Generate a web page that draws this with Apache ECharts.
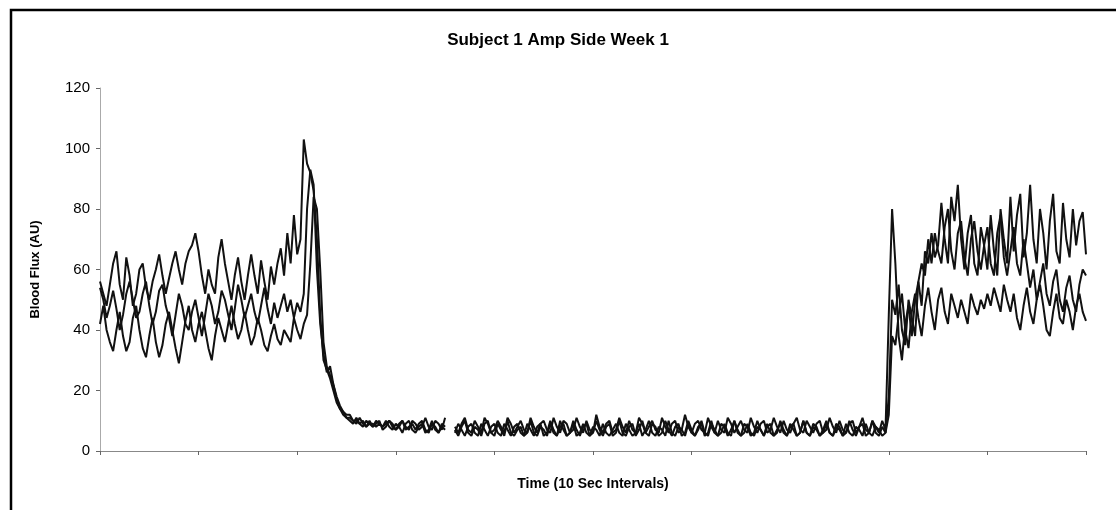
<!DOCTYPE html>
<html>
<head>
<meta charset="utf-8">
<script src="https://cdn.jsdelivr.net/npm/echarts@6/dist/echarts.min.js"></script>
<style>
  html, body { margin: 0; padding: 0; background: #fff; }
  #chart { width: 1116px; height: 510px; }
</style>
</head>
<body>
<div id="chart"></div>
<script>
// three traces of blood flux, one reading every 10 s (301 readings)
const traceA = [
  56,52,48,55,62,66,55,50,64,58, 48,52,60,62,54,50,56,60,65,58,
  52,57,62,66,60,55,62,66,68,72, 66,58,52,60,55,52,64,70,62,56,
  50,58,64,56,50,58,65,58,52,63, 56,50,61,55,62,67,58,72,62,78,
  65,70,103,95,92,86,
  70,45,30,27,24,20,16,14,12,11,
  10,9,11,9,8,10,9,8,10,9, 8,9,10,8,7,9,10,8,7,10, 9,7,8,11,8,7,10,9,7,11,
  null,null,
  8,6,9,11,7,6,10,8,6,11, 9,6,7,10,8,6,11,9,6,8, 10,7,6,11,8,6,9,10,7,6,
  11,8,6,10,9,6,7,11,8,6, 10,7,6,12,8,6,9,10,6,7, 11,8,6,10,7,6,11,9,6,8,
  10,7,6,11,8,6,9,10,6,7, 12,8,6,9,10,7,6,11,8,6, 10,7,6,11,9,6,8,10,7,6,
  11,8,6,9,10,6,7,11,8,6, 10,7,6,9,11,7,6,10,8,6, 9,10,6,7,11,8,6,10,7,6,
  9,10,6,8,11,7,6,10,8,6, 10,7,
  45,80,
  62,38,30,42,48,38,50,56,48,
  66,62,72,64,68,82,70,62,84,76, 88,70,60,72,78,62,58,74,68,60,
  78,66,58,80,70,62,84,66,78,85, 64,72,88,70,62,80,72,60,76,85,
  66,62,82,70,64,80,68,76,79,65
];
const traceB = [
  54,50,44,48,53,47,40,45,52,56, 50,44,46,52,56,48,42,46,53,55,
  48,44,38,45,52,48,42,40,46,50, 44,38,45,52,48,42,46,53,50,45,
  40,47,55,50,44,48,52,46,42,48, 54,47,42,49,44,48,52,46,50,44,
  49,46,52,80,93,88,
  60,42,32,26,28,22,17,14,13,11,
  11,10,9,11,9,8,10,8,9,10, 7,8,10,9,7,8,10,7,8,9, 7,9,10,7,6,9,8,6,9,8,
  null,null,
  6,9,7,5,8,9,6,5,9,7, 5,8,9,6,5,9,7,5,8,9, 6,5,9,7,5,8,9,5,6,10,
  7,5,8,9,5,6,10,7,5,8, 9,5,6,10,7,5,8,9,5,6, 10,6,5,8,9,5,7,10,6,5,
  9,8,5,6,10,7,5,8,9,5, 6,10,7,5,8,9,5,6,10,6, 5,9,8,5,7,10,6,5,9,8,
  5,6,10,7,5,8,9,5,6,10, 7,5,8,9,5,6,10,6,5,9, 8,5,7,10,6,5,9,8,5,6,
  10,7,5,8,9,5,6,10,6,5, 8,6,
  18,50,
  45,55,40,35,50,44,38,56,62,
  58,70,62,72,66,62,74,80,66,60, 72,76,64,58,70,76,66,60,68,74,
  62,58,72,78,64,58,66,74,62,58, 70,62,54,60,50,56,62,52,48,56,
  60,50,46,54,58,50,46,55,60,58
];
const traceC = [
  42,48,40,36,33,40,46,38,33,36, 44,48,40,34,31,38,44,36,31,35,
  42,46,40,34,29,36,43,48,40,36, 42,46,40,34,30,38,44,40,36,42,
  48,42,37,40,46,40,35,38,44,40, 35,33,38,42,37,35,40,38,36,44,
  40,37,42,45,62,84,
  80,60,36,28,25,22,18,15,13,12,
  12,10,10,9,10,8,9,9,8,9, 8,10,8,7,9,8,6,9,10,7, 6,8,9,6,7,10,7,6,8,7,
  null,null,
  7,5,8,10,6,5,8,7,5,9, 10,6,5,9,7,5,10,6,5,7, 8,5,6,10,6,5,8,7,5,9,
  6,5,10,7,5,6,9,5,6,9, 6,5,8,7,5,9,6,5,7,9, 6,5,9,7,5,6,9,5,7,10,
  6,5,8,7,5,10,6,5,8,7, 5,9,6,5,7,10,6,5,9,7, 5,6,9,6,5,10,7,5,6,9,
  6,5,8,7,5,9,6,5,7,9, 6,5,9,7,5,6,10,6,5,8, 7,5,6,9,6,5,8,7,5,9,
  6,5,8,7,5,9,6,5,8,7, 5,6,
  12,38,
  35,45,52,40,34,46,52,44,38,
  48,54,46,40,50,54,46,42,52,48, 44,50,46,42,52,48,45,50,47,52,
  48,54,50,46,55,50,46,52,44,40, 48,54,46,42,50,55,48,40,38,46,
  52,44,42,50,46,40,48,52,46,43
];
const timeSteps = traceA.map((v, i) => i + 1);
const yTicks = { min: 0, max: 120, step: 20 };
const tickEvery = 30;

const chartDom = document.getElementById('chart');
const myChart = echarts.init(chartDom);

const lineSeries = (name, data) => ({
  name: name,
  type: 'line',
  data: data,
  showSymbol: false,
  connectNulls: false,
  animation: false,
  lineStyle: { color: '#111', width: 2 }
});

const option = {
  backgroundColor: '#fff',
  textStyle: { fontFamily: 'Liberation Sans, Arial, sans-serif' },
  title: {
    text: 'Subject 1 Amp Side Week 1',
    left: 'center',
    top: 27,
    textStyle: { color: '#000', fontSize: 17, fontWeight: 'bold' }
  },
  grid: { left: 100, right: 30, top: 88, bottom: 59 },
  xAxis: {
    type: 'category',
    data: timeSteps,
    boundaryGap: false,
    name: 'Time (10 Sec Intervals)',
    nameLocation: 'middle',
    nameGap: 26,
    nameTextStyle: { color: '#000', fontSize: 14, fontWeight: 'bold' },
    axisLine: { lineStyle: { color: '#888', width: 1.2 } },
    axisTick: {
      length: 4,
      interval: (index) => index % tickEvery === 0,
      lineStyle: { color: '#666' }
    },
    axisLabel: { show: false },
    splitLine: { show: false }
  },
  yAxis: {
    type: 'value',
    min: yTicks.min,
    max: yTicks.max,
    interval: yTicks.step,
    name: 'Blood Flux (AU)',
    nameLocation: 'middle',
    nameGap: 58,
    nameTextStyle: { color: '#000', fontSize: 13, fontWeight: 'bold' },
    axisLine: { show: true, lineStyle: { color: '#aaa', width: 1 } },
    axisTick: { show: true, length: 4, lineStyle: { color: '#666' } },
    axisLabel: { color: '#000', fontSize: 15, margin: 10 },
    splitLine: { show: false }
  },
  graphic: [
    {
      type: 'polyline',
      shape: { points: [[11, 520], [11, 10], [1120, 10]] },
      style: { stroke: '#000', lineWidth: 2.5, fill: null }
    }
  ],
  series: [
    lineSeries('Trace 1', traceA),
    lineSeries('Trace 2', traceB),
    lineSeries('Trace 3', traceC)
  ]
};

myChart.setOption(option);
window.addEventListener('resize', () => myChart.resize());
</script>
</body>
</html>
